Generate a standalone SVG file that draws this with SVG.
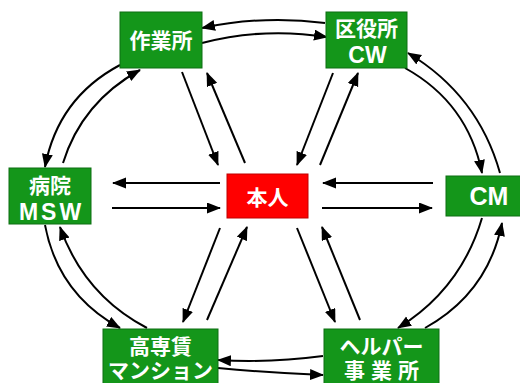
<svg xmlns="http://www.w3.org/2000/svg" width="520" height="383" viewBox="0 0 520 383">
<defs>
<marker id="ah" markerUnits="userSpaceOnUse" markerWidth="15" markerHeight="12" refX="13" refY="5.5" orient="auto" viewBox="0 0 15 12">
<path d="M0,0 L14,5.5 L0,11 z" fill="#000"/>
</marker>
<style>
.g{fill:#14961a;stroke:#0d6e12;stroke-width:1}
.r{fill:#ff0000;stroke:#c00000;stroke-width:1}
.t{fill:#fff;font-family:"Noto Sans CJK JP","Noto Sans",sans-serif;font-weight:700;font-size:21px;text-anchor:middle}
.l{font-family:"Liberation Sans",Arial,sans-serif;font-weight:700}
.c path{fill:none;stroke:#000;stroke-width:2;marker-end:url(#ah)}
</style>
</defs>
<rect width="520" height="383" fill="#fff"/>
<g class="c">
<path d="M325,23 Q263,15 202,28"/>
<path d="M202,43 Q263,27 327,37"/>
<path d="M120,65 Q58,98 45,167"/>
<path d="M63,163 Q82,102 140,70"/>
<path d="M405,68 Q468,103 482,173"/>
<path d="M500,173 Q478,95 408,53"/>
<path d="M45,225 Q58,294 120,328"/>
<path d="M147,328 Q84,295 60,227"/>
<path d="M482,218 Q461,289 398,328"/>
<path d="M425,328 Q488,293 502,223"/>
<path d="M323,356 Q270,363 218,360"/>
<path d="M218,368 Q270,373 323,375"/>
<path d="M182,72 L218,165"/>
<path d="M245,163 L207,73"/>
<path d="M333,73 L297,165"/>
<path d="M320,165 L358,73"/>
<path d="M220,183 L113,183"/>
<path d="M112,208 L220,208"/>
<path d="M433,183 L323,183"/>
<path d="M322,208 L432,208"/>
<path d="M220,228 L183,322"/>
<path d="M207,320 L247,227"/>
<path d="M297,228 L335,322"/>
<path d="M360,320 L322,227"/>
</g>
<g id="sagyosho">
<rect class="g" x="120" y="12" width="82" height="56"/>
<text class="t" x="161" y="48">作業所</text>
</g>
<g id="kuyakusho">
<rect class="g" x="326" y="12" width="81" height="56"/>
<text class="t" x="366.5" y="36">区役所<tspan class="l" x="367.5" y="63" style="font-size:23px">CW</tspan></text>
</g>
<g id="byoin">
<rect class="g" x="9" y="168" width="82" height="56"/>
<text class="t" x="50" y="193">病院<tspan class="l" x="51.5" y="220" style="font-size:23px" letter-spacing="3">MSW</tspan></text>
</g>
<g id="honnin">
<rect class="r" x="227" y="174" width="81" height="44"/>
<text class="t" x="267.5" y="205">本人</text>
</g>
<g id="cm">
<rect class="g" x="446" y="176" width="87" height="40"/>
<text class="t l" x="489" y="205" style="font-size:25px">CM</text>
</g>
<g id="kousentin">
<rect class="g" x="103" y="329" width="115" height="60"/>
<text class="t" x="160.5" y="354">高専賃<tspan x="160.5" y="378">マンション</tspan></text>
</g>
<g id="helper">
<rect class="g" x="324" y="329" width="115" height="60"/>
<text class="t" x="381.5" y="354">ヘルパー<tspan x="384.5" y="378" letter-spacing="6">事業所</tspan></text>
</g>
</svg>
